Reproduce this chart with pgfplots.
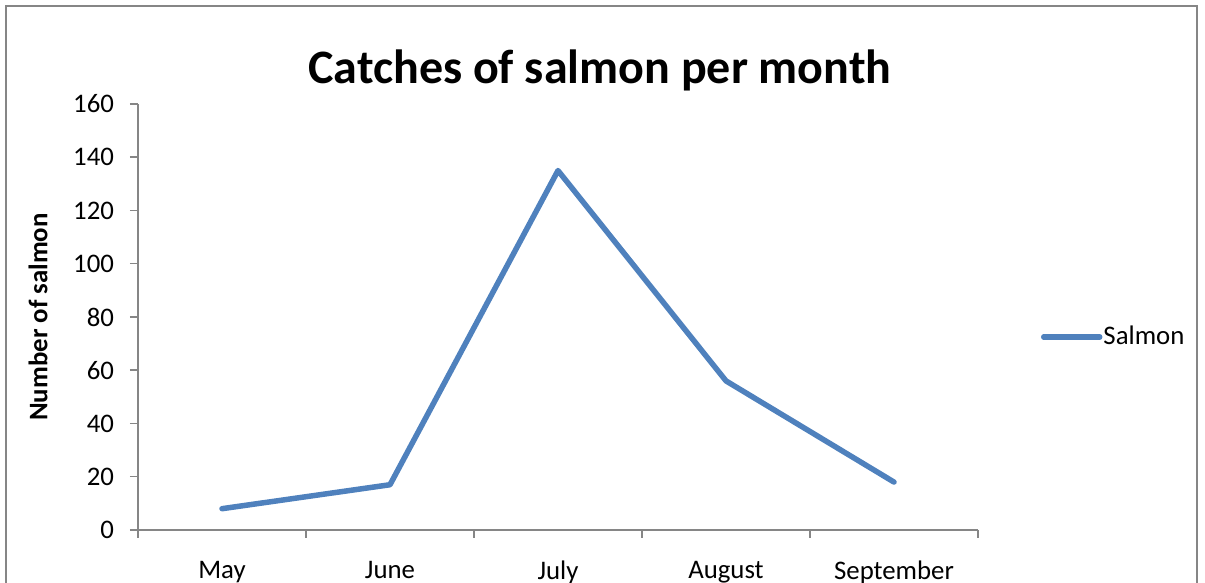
\documentclass[border=0pt]{standalone}
\usepackage{fontspec}
\setmainfont{Carlito}
\usepackage{pgfplots}
\pgfplotsset{compat=1.18}
\definecolor{sblue}{HTML}{4F81BD}
\definecolor{agray}{HTML}{868686}
\begin{document}
\begin{tikzpicture}
\useasboundingbox (0,0) rectangle (602.5pt,291.5pt);
\draw[agray, line width=1pt] (2.75pt,-5pt) -- (2.75pt,288.25pt) -- (598.5pt,288.25pt) -- (598.5pt,-5pt);
\node[font=\fontsize{24}{28}\selectfont\bfseries, anchor=base] at (300pt,249.5pt) {Catches of salmon per month};
\begin{axis}[
  at={(69pt,26.5pt)}, anchor=south west,
  scale only axis, width=420pt, height=213pt,
  xmin=-0.5, xmax=4.5, ymin=0, ymax=160,
  ytick={0,20,...,160},
  xtick={-0.5,0.5,...,4.5},
  x tick label as interval,
  xticklabels={May,June,July,August,September},
  axis x line*=bottom, axis y line*=left,
  axis line style={agray, line width=0.75pt, -},
  tick style={agray, line width=0.75pt},
  tick align=outside,
  major tick length=4pt,
  every tick label/.append style={font=\fontsize{13.4}{16}\selectfont, text=black},
  yticklabel style={xshift=-4.5pt},
  xticklabel style={yshift=-8pt},
  /pgf/number format/assume math mode=true,
  ylabel={Number of salmon},
  ylabel style={at={(axis description cs:-0.119,0.5)}, anchor=center, font=\fontsize{13.4}{16}\selectfont\bfseries},
  legend style={at={(axis description cs:1.0745,0.453)}, anchor=west, draw=none, fill=none, inner sep=0pt, font=\fontsize{13.4}{16}\selectfont, nodes={inner xsep=0.5pt}},
  legend image code/.code={\draw[#1] (0pt,0pt) -- (28pt,0pt);},
  clip=false,
]
\addplot[sblue, line width=2.75pt, line join=round, line cap=round] coordinates {
  (0,8) (1,17) (2,135) (3,56) (4,18)
};
\addlegendentry{Salmon}
\end{axis}
\end{tikzpicture}
\end{document}
